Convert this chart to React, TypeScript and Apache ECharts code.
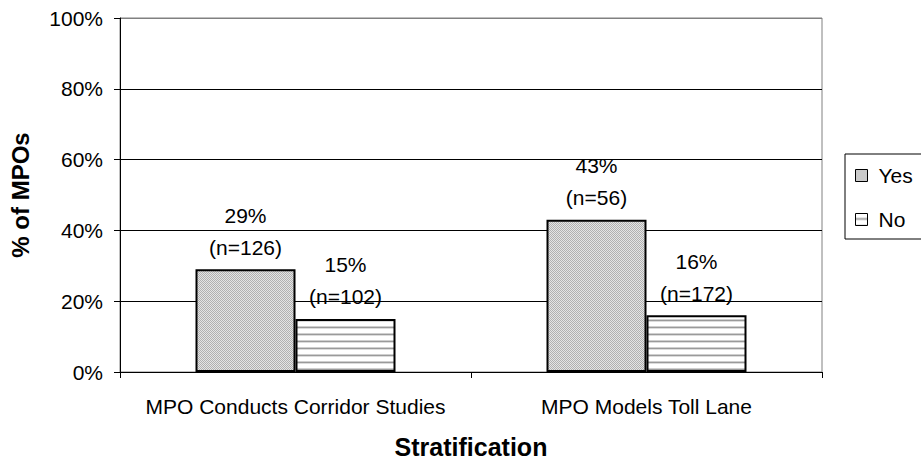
import React, { useEffect, useRef } from "react";
import * as echarts from "echarts";

const categories = ["MPO Conducts Corridor Studies", "MPO Models Toll Lane"];
const yesValues = [29, 43];
const noValues = [15, 16];
const yesCounts = [126, 56];
const noCounts = [102, 172];
const yTicks = [0, 20, 40, 60, 80, 100];

const FONT = "'Liberation Sans', Arial, sans-serif";

function makeCheckerPattern() {
  const c = document.createElement("canvas");
  c.width = 4;
  c.height = 4;
  const ctx = c.getContext("2d")!;
  ctx.fillStyle = "#e4e4e4";
  ctx.fillRect(0, 0, 4, 4);
  ctx.fillStyle = "#b0b0b0";
  for (let y = 0; y < 4; y++) {
    for (let x = 0; x < 4; x++) {
      if ((x + y) % 2 === 0) ctx.fillRect(x, y, 1, 1);
    }
  }
  return c;
}

function makeStripePattern() {
  const c = document.createElement("canvas");
  c.width = 4;
  c.height = 7;
  const ctx = c.getContext("2d")!;
  ctx.fillStyle = "#ffffff";
  ctx.fillRect(0, 0, 4, 7);
  ctx.fillStyle = "#cfcfcf";
  ctx.fillRect(0, 4, 4, 1);
  ctx.fillStyle = "#9a9a9a";
  ctx.fillRect(0, 5, 4, 1);
  ctx.fillStyle = "#dcdcdc";
  ctx.fillRect(0, 6, 4, 1);
  return c;
}

export default function App() {
  const ref = useRef<HTMLDivElement>(null);
  useEffect(() => {
    if (!ref.current) return;
    const chart = echarts.init(ref.current, undefined, { renderer: "svg" });
    const checker = makeCheckerPattern();
    const stripes = makeStripePattern();
    const labelStyle = (counts: number[]) => ({
      show: true,
      position: "top" as const,
      distance: 6,
      color: "#000",
      fontFamily: FONT,
      fontSize: 21,
      lineHeight: 32,
      align: "center" as const,
      formatter: (p: any) => `${p.value}%\n(n=${counts[p.dataIndex]})`,
    });
    chart.setOption({
      animation: false,
      backgroundColor: "#fff",
      textStyle: { fontFamily: FONT },
      grid: { left: 120, right: 99, top: 18, bottom: 89, show: true, borderColor: "#808080", borderWidth: 1 },
      legend: {
        orient: "vertical",
        left: 845,
        top: 154,
        padding: [11, 20, 9, 10],
        itemGap: 23,
        itemWidth: 12,
        itemHeight: 12,
        icon: "rect",
        borderColor: "#000",
        borderWidth: 1,
        backgroundColor: "#fff",
        textStyle: { fontFamily: FONT, fontSize: 21, color: "#000", lineHeight: 21, padding: [0, 0, 0, 6] },
        itemStyle: { borderColor: "#000", borderWidth: 1 },
        data: ["Yes", "No"],
      },
      xAxis: {
        type: "category",
        data: categories,
        boundaryGap: true,
        axisLine: { lineStyle: { color: "#000", width: 1 } },
        axisTick: { show: true, length: 6, alignWithLabel: false, lineStyle: { color: "#000" } },
        axisLabel: { color: "#000", fontSize: 21, fontFamily: FONT, margin: 24, interval: 0 },
        name: "Stratification",
        nameLocation: "middle",
        nameGap: 62,
        nameTextStyle: { color: "#000", fontSize: 25, fontWeight: "bold", fontFamily: FONT },
      },
      yAxis: {
        type: "value",
        min: yTicks[0],
        max: yTicks[yTicks.length - 1],
        interval: 20,
        axisLine: { show: true, lineStyle: { color: "#000", width: 1 } },
        axisTick: { show: true, length: 6, lineStyle: { color: "#000" } },
        axisLabel: { color: "#000", fontSize: 21, fontFamily: FONT, margin: 17, formatter: "{value}%" },
        splitLine: { show: true, lineStyle: { color: ["#000", "#000", "#000", "#000", "#000", "#808080"], width: 1 } },
        name: "% of MPOs",
        nameLocation: "middle",
        nameGap: 88,
        nameRotate: 90,
        nameTextStyle: { color: "#000", fontSize: 24, fontWeight: "bold", fontFamily: FONT },
      },
      series: [
        {
          name: "Yes",
          type: "bar",
          data: yesValues,
          barWidth: 100,
          barGap: "0%",
          itemStyle: { color: { image: checker, repeat: "repeat" }, borderColor: "#000", borderWidth: 2 },
          label: labelStyle(yesCounts),
        },
        {
          name: "No",
          type: "bar",
          data: noValues,
          barWidth: 100,
          barGap: "0%",
          itemStyle: { color: { image: stripes, repeat: "repeat" }, borderColor: "#000", borderWidth: 2 },
          label: labelStyle(noCounts),
        },
      ],
    });
    return () => chart.dispose();
  }, []);
  return <div ref={ref} style={{ width: 921, height: 464, position: "absolute", left: 0, top: 0 }} />;
}
